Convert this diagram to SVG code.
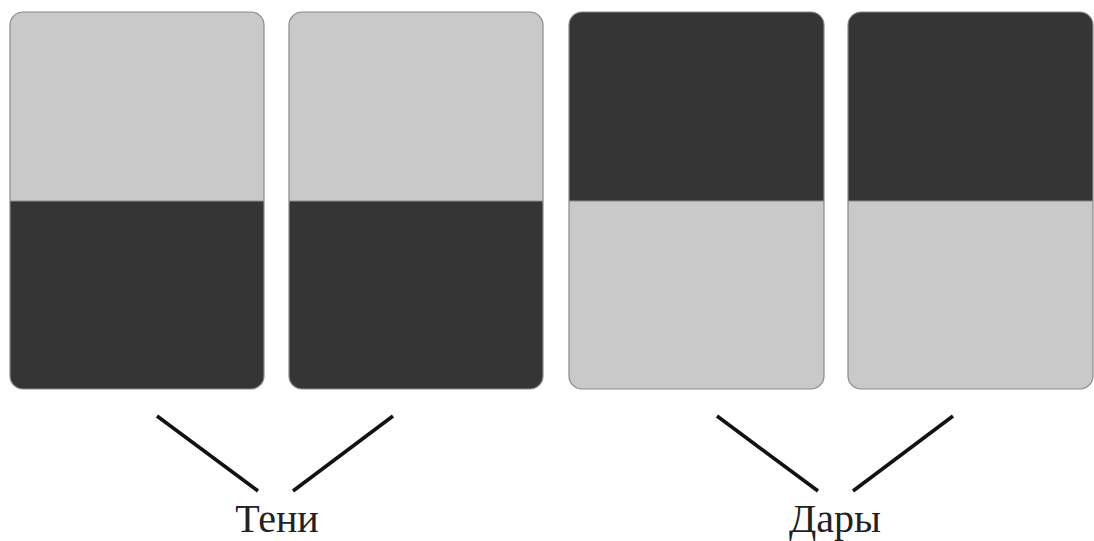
<svg xmlns="http://www.w3.org/2000/svg" width="1094" height="541" viewBox="0 0 1094 541">
<style>
.light{fill:#c9c9c9}
.dark{fill:#353535}
.frame{fill:none;stroke:#8a8a8a;stroke-width:1.2}
.div{stroke:#8a8a8a;stroke-width:1}
.conn{stroke:#111;stroke-width:3.6;stroke-linecap:butt}
.lbl{font-family:"Liberation Serif","DejaVu Serif",serif;font-size:40px;fill:#222;text-anchor:middle}
</style>
<defs>
<clipPath id="c1"><rect x="10" y="12" width="254" height="377" rx="13"/></clipPath>
<clipPath id="c2"><rect x="289" y="12" width="254" height="377" rx="13"/></clipPath>
<clipPath id="c3"><rect x="569" y="12" width="255" height="377" rx="13"/></clipPath>
<clipPath id="c4"><rect x="848" y="12" width="245" height="377" rx="13"/></clipPath>
</defs>
<rect width="1094" height="541" fill="#fff"/>
<g id="card1" clip-path="url(#c1)">
<rect class="light" x="10" y="12" width="254" height="189"/>
<rect class="dark" x="10" y="201" width="254" height="188"/>
<line class="div" x1="10" y1="201" x2="264" y2="201"/>
</g>
<rect class="frame" x="10" y="12" width="254" height="377" rx="13"/>
<g id="card2" clip-path="url(#c2)">
<rect class="light" x="289" y="12" width="254" height="189"/>
<rect class="dark" x="289" y="201" width="254" height="188"/>
<line class="div" x1="289" y1="201" x2="543" y2="201"/>
</g>
<rect class="frame" x="289" y="12" width="254" height="377" rx="13"/>
<g id="card3" clip-path="url(#c3)">
<rect class="dark" x="569" y="12" width="255" height="189"/>
<rect class="light" x="569" y="201" width="255" height="188"/>
<line class="div" x1="569" y1="201" x2="824" y2="201"/>
</g>
<rect class="frame" x="569" y="12" width="255" height="377" rx="13"/>
<g id="card4" clip-path="url(#c4)">
<rect class="dark" x="848" y="12" width="245" height="189"/>
<rect class="light" x="848" y="201" width="245" height="188"/>
<line class="div" x1="848" y1="201" x2="1093" y2="201"/>
</g>
<rect class="frame" x="848" y="12" width="245" height="377" rx="13"/>
<g id="connectors">
<line class="conn" x1="157" y1="416" x2="258" y2="491"/>
<line class="conn" x1="393" y1="416" x2="293" y2="491"/>
<line class="conn" x1="717" y1="416" x2="818" y2="491"/>
<line class="conn" x1="953" y1="416" x2="853" y2="491"/>
</g>
<g id="label-teni"><text class="lbl" x="277" y="532">Тени</text></g>
<g id="label-dary"><text class="lbl" x="835" y="532">Дары</text></g>
</svg>
